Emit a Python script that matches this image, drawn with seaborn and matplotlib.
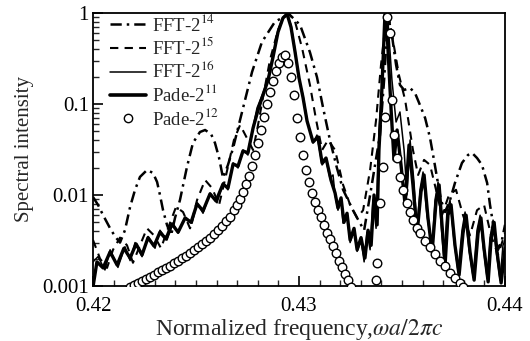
import numpy as np
import pandas as pd
import matplotlib
matplotlib.use("Agg")
import matplotlib.pyplot as plt
import seaborn as sns
from matplotlib.ticker import FixedLocator, FixedFormatter, NullFormatter, MultipleLocator
from matplotlib.lines import Line2D

# ---------------- data ----------------
# FFT-2^14 (dash-dot)
fft14_x = [0.42000, 0.42024, 0.42049, 0.42083, 0.42107, 0.42131, 0.42155, 0.42180, 0.42204, 0.42228,
           0.42262, 0.42291, 0.42311, 0.42325, 0.42340, 0.42359, 0.42379, 0.42398, 0.42422, 0.42456,
           0.42485, 0.42519, 0.42544, 0.42573, 0.42592, 0.42612, 0.42631, 0.42655, 0.42680, 0.42704,
           0.42738, 0.42772, 0.42820, 0.42883, 0.42951, 0.43005, 0.43053, 0.43087, 0.43117, 0.43150,
           0.43184, 0.43214, 0.43262, 0.43296, 0.43316, 0.43345, 0.43369, 0.43393, 0.43413, 0.43432,
           0.43451, 0.43471, 0.43490, 0.43510, 0.43539, 0.43563, 0.43587, 0.43612, 0.43636, 0.43655,
           0.43670, 0.43689, 0.43709, 0.43733, 0.43757, 0.43791, 0.43820, 0.43840, 0.43864, 0.43888,
           0.43913, 0.43927, 0.43947, 0.43966, 0.43985, 0.44000]
fft14_y = [0.0095, 0.0078, 0.0060, 0.0043, 0.0035, 0.0030, 0.0041, 0.0074, 0.0114, 0.0158,
           0.0188, 0.0175, 0.0139, 0.0100, 0.0068, 0.0047, 0.0036, 0.0056, 0.0088, 0.0203,
           0.0373, 0.0492, 0.0518, 0.0468, 0.0373, 0.0255, 0.0154, 0.0214, 0.0328, 0.0545,
           0.1107, 0.225, 0.48, 0.80, 0.975, 0.74, 0.37, 0.198, 0.0904, 0.0402,
           0.0198, 0.0114, 0.0068, 0.0049, 0.0041, 0.0100, 0.0214, 0.0456, 0.184, 0.95,
           0.57, 0.27, 0.162, 0.1425, 0.150, 0.132, 0.0975, 0.0702, 0.0423, 0.0243,
           0.0154, 0.0088, 0.0065, 0.0088, 0.0136, 0.0225, 0.0275, 0.0290, 0.0255, 0.0214,
           0.0136, 0.0078, 0.0041, 0.0025, 0.0032, 0.0047]

# FFT-2^15 (dashed)
fft15_x = [0.42000, 0.42034, 0.42068, 0.42097, 0.42131, 0.42165, 0.42194, 0.42228, 0.42262, 0.42296,
           0.42330, 0.42364, 0.42403, 0.42437, 0.42471, 0.42505, 0.42544, 0.42578, 0.42612, 0.42646,
           0.42684, 0.42714, 0.42752, 0.42777, 0.42801, 0.42825, 0.42859, 0.42898, 0.42927, 0.42951,
           0.42981, 0.43015, 0.43053, 0.43083, 0.43112, 0.43141, 0.43175, 0.43214, 0.43248, 0.43282,
           0.43311, 0.43345, 0.43374, 0.43398, 0.43422, 0.43432, 0.43456, 0.43485, 0.43515, 0.43534,
           0.43553, 0.43578, 0.43607, 0.43636, 0.43665, 0.43694, 0.43728, 0.43762, 0.43796, 0.43830,
           0.43864, 0.43898, 0.43932, 0.43966, 0.44000]
fft15_y = [0.0032, 0.0020, 0.00158, 0.0025, 0.0034, 0.0028, 0.0018, 0.0028, 0.0043, 0.0036,
           0.0026, 0.0043, 0.0074, 0.0065, 0.0043, 0.0088, 0.0146, 0.0119, 0.0078, 0.0166,
           0.0402, 0.0588, 0.0402, 0.0312, 0.0588, 0.118, 0.305, 0.65, 0.90, 0.975,
           0.80, 0.41, 0.162, 0.0667, 0.0312, 0.0402, 0.0312, 0.0129, 0.0078, 0.0056,
           0.0068, 0.0188, 0.0667, 0.27, 0.84, 0.975, 0.50, 0.208, 0.1107, 0.0588,
           0.0312, 0.0166, 0.0243, 0.0214, 0.0114, 0.0060, 0.0100, 0.0114, 0.0060, 0.0036,
           0.0068, 0.0078, 0.0036, 0.0022, 0.0038]

# FFT-2^16 (thin solid)
fft16_x = [0.42000, 0.42024, 0.42058, 0.42083, 0.42121, 0.42155, 0.42180, 0.42204, 0.42238, 0.42267,
           0.42301, 0.42325, 0.42359, 0.42388, 0.42413, 0.42447, 0.42481, 0.42505, 0.42534, 0.42568,
           0.42602, 0.42631, 0.42655, 0.42680, 0.42704, 0.42728, 0.42752, 0.42777, 0.42796, 0.42825,
           0.42850, 0.42874, 0.42898, 0.42922, 0.42942, 0.42961, 0.42981, 0.42995, 0.43019, 0.43039,
           0.43068, 0.43087, 0.43112, 0.43131, 0.43150, 0.43165, 0.43175, 0.43189, 0.43204, 0.43214,
           0.43233, 0.43248, 0.43267, 0.43282, 0.43301, 0.43316, 0.43330, 0.43345, 0.43359, 0.43374,
           0.43388, 0.43403, 0.43417, 0.43432, 0.43451, 0.43471, 0.43490, 0.43510, 0.43524, 0.43539,
           0.43558, 0.43573, 0.43587, 0.43602, 0.43621, 0.43646, 0.43660, 0.43675, 0.43689, 0.43704,
           0.43718, 0.43733, 0.43752, 0.43772, 0.43791, 0.43806, 0.43825, 0.43845, 0.43864, 0.43879,
           0.43893, 0.43913, 0.43927, 0.43942, 0.43956, 0.43976, 0.43990, 0.44000]
fft16_y = [0.00184, 0.0021, 0.0015, 0.0025, 0.0016, 0.0027, 0.0019, 0.0030, 0.0021, 0.0035,
           0.0026, 0.0041, 0.0032, 0.0049, 0.0038, 0.0057, 0.0049, 0.0082, 0.0063, 0.0105,
           0.0082, 0.0136, 0.0114, 0.0225, 0.0198, 0.0312, 0.0275, 0.0559, 0.0904, 0.132,
           0.193, 0.345, 0.65, 0.90, 0.975, 0.74, 0.39, 0.208, 0.1255, 0.0667,
           0.0373, 0.0456, 0.0214, 0.0243, 0.0154, 0.0166, 0.0100, 0.0068, 0.0088, 0.0049,
           0.0060, 0.0030, 0.0041, 0.0024, 0.0032, 0.00184, 0.0039, 0.0025, 0.0088, 0.0043,
           0.0518, 0.162, 0.975, 0.80, 0.184, 0.0634, 0.0817, 0.0312, 0.0100, 0.0402,
           0.0139, 0.0043, 0.0114, 0.0179, 0.0060, 0.0026, 0.0088, 0.0139, 0.0050, 0.00184,
           0.0065, 0.0088, 0.0032, 0.00143, 0.0041, 0.0065, 0.0025, 0.00126, 0.0041, 0.0060,
           0.0028, 0.00122, 0.0034, 0.0053, 0.0025, 0.00116, 0.0028, 0.0032]

# Pade-2^11 (thick solid)
pade11_x = [0.42000, 0.42019, 0.42049, 0.42083, 0.42117, 0.42150, 0.42180, 0.42209, 0.42238, 0.42267,
            0.42296, 0.42325, 0.42354, 0.42383, 0.42413, 0.42447, 0.42476, 0.42505, 0.42534, 0.42568,
            0.42597, 0.42631, 0.42655, 0.42680, 0.42704, 0.42728, 0.42752, 0.42777, 0.42801, 0.42825,
            0.42850, 0.42874, 0.42898, 0.42922, 0.42942, 0.42961, 0.42981, 0.43000, 0.43019, 0.43039,
            0.43068, 0.43092, 0.43112, 0.43131, 0.43155, 0.43175, 0.43189, 0.43204, 0.43218, 0.43233,
            0.43248, 0.43267, 0.43282, 0.43301, 0.43320, 0.43335, 0.43350, 0.43364, 0.43379, 0.43388,
            0.43398, 0.43408, 0.43417, 0.43427, 0.43437, 0.43447, 0.43461, 0.43476, 0.43495, 0.43515,
            0.43534, 0.43553, 0.43573, 0.43592, 0.43607, 0.43626, 0.43646, 0.43665, 0.43680, 0.43694,
            0.43709, 0.43723, 0.43738, 0.43757, 0.43777, 0.43796, 0.43811, 0.43830, 0.43850, 0.43869,
            0.43883, 0.43898, 0.43918, 0.43932, 0.43947, 0.43961, 0.43981, 0.44000]
pade11_y = [0.00098, 0.00184, 0.00158, 0.00237, 0.0017, 0.0026, 0.00203, 0.0029, 0.0022, 0.0034,
            0.00275, 0.0039, 0.00328, 0.0048, 0.0039, 0.0056, 0.0050, 0.0080, 0.0067, 0.0103,
            0.0086, 0.0132, 0.0119, 0.0219, 0.0208, 0.0305, 0.0290, 0.0545, 0.0859, 0.1255,
            0.184, 0.33, 0.618, 0.88, 0.975, 0.70, 0.37, 0.193, 0.119, 0.065,
            0.0382, 0.0434, 0.0225, 0.0255, 0.0146, 0.0105, 0.0072, 0.0093, 0.0050, 0.0063,
            0.0032, 0.0043, 0.0025, 0.0034, 0.00203, 0.0041, 0.0028, 0.0100, 0.0047, 0.0312,
            0.0859, 0.305, 0.95, 0.65, 0.236, 0.0859, 0.0243, 0.0518, 0.0214, 0.0078,
            0.0354, 0.0129, 0.0038, 0.0108, 0.0166, 0.0056, 0.00237, 0.0084, 0.0129, 0.0047,
            0.0017, 0.0060, 0.0078, 0.0028, 0.00132, 0.0038, 0.0060, 0.00237, 0.00116, 0.0038,
            0.0056, 0.0026, 0.00111, 0.0032, 0.0050, 0.00237, 0.00108, 0.0026]

# Pade-2^12 (open circles)
pade12_x = [0.42180, 0.42199, 0.42218, 0.42238, 0.42257, 0.42277, 0.42296, 0.42316, 0.42335, 0.42354,
            0.42374, 0.42393, 0.42413, 0.42432, 0.42451, 0.42471, 0.42490, 0.42510, 0.42529, 0.42549,
            0.42568, 0.42587, 0.42607, 0.42626, 0.42646, 0.42665, 0.42684, 0.42699, 0.42714, 0.42728,
            0.42743, 0.42757, 0.42772, 0.42786, 0.42801, 0.42816, 0.42830, 0.42845, 0.42859, 0.42874,
            0.42888, 0.42903, 0.42917, 0.42932, 0.42947, 0.42961, 0.42976, 0.42990, 0.43005, 0.43019,
            0.43034, 0.43049, 0.43063, 0.43078, 0.43092, 0.43107, 0.43121, 0.43136, 0.43150, 0.43165,
            0.43180, 0.43194, 0.43209, 0.43223, 0.43238, 0.43252,
            0.43374, 0.43379, 0.43393, 0.43408, 0.43417, 0.43427, 0.43442, 0.43451, 0.43461, 0.43476,
            0.43490, 0.43505, 0.43524, 0.43539, 0.43553, 0.43573, 0.43587, 0.43612, 0.43636, 0.43660,
            0.43684, 0.43709, 0.43733, 0.43757, 0.43782, 0.43796]
pade12_y = [0.00098, 0.00103, 0.00108, 0.00114, 0.00119, 0.00126, 0.00132, 0.00143, 0.0015, 0.00158,
            0.00166, 0.00179, 0.00188, 0.00203, 0.00214, 0.0023, 0.0025, 0.0027, 0.0029, 0.0031,
            0.0034, 0.0037, 0.0041, 0.0046, 0.0052, 0.0058, 0.0068, 0.0078, 0.0090, 0.0108,
            0.0132, 0.0162, 0.0208, 0.0275, 0.0373, 0.0518, 0.0719, 0.100, 0.1355, 0.179,
            0.231, 0.282, 0.33, 0.345, 0.282, 0.198, 0.1255, 0.0702, 0.0434, 0.0275,
            0.0188, 0.0139, 0.0105, 0.0084, 0.0068, 0.0057, 0.0047, 0.0038, 0.0033, 0.00275,
            0.0023, 0.0019, 0.0016, 0.00135, 0.00116, 0.00098,
            0.00116, 0.00179, 0.0082, 0.0203, 0.0719, 0.90, 0.60, 0.1107, 0.0456, 0.0255,
            0.0158, 0.0114, 0.0082, 0.0065, 0.0053, 0.0043, 0.0038, 0.0031, 0.0027, 0.00225,
            0.0019, 0.00166, 0.00139, 0.00122, 0.00108, 0.00098]

labels = ["FFT-2$^{14}$", "FFT-2$^{15}$", "FFT-2$^{16}$", "Pade-2$^{11}$", "Pade-2$^{12}$"]
y_ticks = [0.001, 0.01, 0.1, 1]
y_tick_labels = ["0.001", "0.01", "0.1", "1"]
x_ticks = [0.42, 0.43, 0.44]
x_tick_labels = ["0.42", "0.43", "0.44"]

# ---------------- style ----------------
sns.set_style("ticks")
plt.rcParams["font.family"] = ["Liberation Serif", "DejaVu Serif"]
plt.rcParams["mathtext.fontset"] = "stix"

fig = plt.figure(figsize=(5.3, 3.41), dpi=100)
ax = fig.add_axes([0.1755, 0.1613, 0.7774, 0.8006])

dashdot = (0, (4.5, 2.0, 1.0, 2.0))
dashed = (0, (4.0, 3.0))

sns.lineplot(x=fft14_x, y=fft14_y, ax=ax, color="black", lw=1.8, linestyle=dashdot,
             estimator=None, sort=False, zorder=2)
sns.lineplot(x=fft15_x, y=fft15_y, ax=ax, color="black", lw=1.5, linestyle=dashed,
             estimator=None, sort=False, zorder=2)
sns.lineplot(x=pade11_x, y=pade11_y, ax=ax, color="black", lw=2.4, linestyle="-",
             estimator=None, sort=False, zorder=3)
sns.lineplot(x=fft16_x, y=fft16_y, ax=ax, color="black", lw=1.1, linestyle="-",
             estimator=None, sort=False, zorder=3)
sns.scatterplot(x=pade12_x, y=pade12_y, ax=ax, marker="o", s=38, facecolor="white",
                edgecolor="black", linewidth=1.0, zorder=5)

ax.set_yscale("log")
ax.set_xlim(0.42, 0.44)
ax.set_ylim(0.001, 1)

ax.yaxis.set_major_locator(FixedLocator(y_ticks))
ax.yaxis.set_major_formatter(FixedFormatter(y_tick_labels))
ax.yaxis.set_minor_locator(FixedLocator([m * d for d in (0.001, 0.01, 0.1) for m in range(2, 10)]))
ax.yaxis.set_minor_formatter(NullFormatter())
ax.xaxis.set_major_locator(FixedLocator(x_ticks))
ax.xaxis.set_major_formatter(FixedFormatter(x_tick_labels))
ax.xaxis.set_minor_locator(MultipleLocator(0.001))

ax.tick_params(which="major", direction="in", length=7, width=1.2, labelsize=15,
               colors="black")
ax.tick_params(axis="x", which="major", pad=8)
ax.tick_params(axis="y", which="major", pad=3)
ax.tick_params(which="minor", direction="in", length=4, width=1.0)
for s in ax.spines.values():
    s.set_linewidth(1.3)
    s.set_color("black")

ax.set_xlabel("Normalized frequency,$\\omega a/2\\pi c$", fontsize=17, labelpad=1)
ax.set_ylabel("Spectral intensity", fontsize=15, labelpad=6)

handles = [
    Line2D([], [], color="black", lw=1.8, linestyle=dashdot),
    Line2D([], [], color="black", lw=1.5, linestyle=dashed),
    Line2D([], [], color="black", lw=1.1),
    Line2D([], [], color="black", lw=2.6),
    Line2D([], [], color="black", lw=0, marker="o", markersize=6,
           markerfacecolor="white", markeredgecolor="black"),
]
ax.legend(handles, labels, loc="upper left", frameon=False, fontsize=13.5,
          handlelength=1.9, handletextpad=0.3, labelspacing=0.12,
          borderaxespad=0.0, borderpad=0.2, bbox_to_anchor=(0.033, 1.01))

fig.savefig("out.png", dpi=100)
